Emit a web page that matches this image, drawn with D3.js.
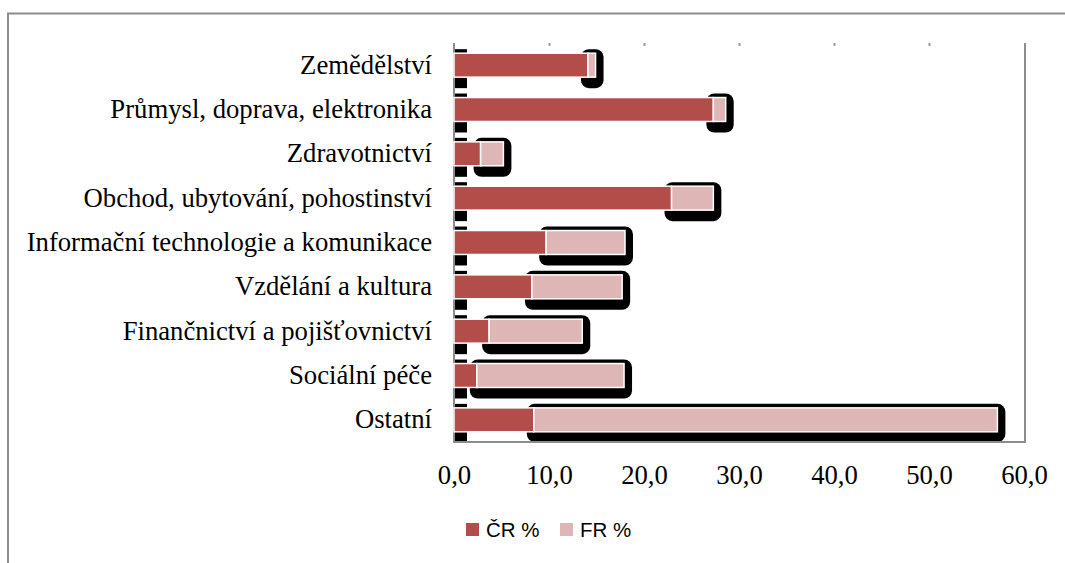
<!DOCTYPE html>
<html>
<head>
<meta charset="utf-8">
<script src="https://cdn.jsdelivr.net/npm/d3@7"></script>
<style>
  html, body { margin: 0; padding: 0; background: #fff; }
  svg { display: block; }
</style>
</head>
<body>
<div id="chart"></div>
<script>
// odvětví (shora dolů)
const categories = [
  "Zemědělství",
  "Průmysl, doprava, elektronika",
  "Zdravotnictví",
  "Obchod, ubytování, pohostinství",
  "Informační technologie a komunikace",
  "Vzdělání a kultura",
  "Finančnictví a pojišťovnictví",
  "Sociální péče",
  "Ostatní"
];
const crValues = [14.1, 27.3, 2.8, 22.9, 9.7, 8.2, 3.7, 2.4, 8.4];
const frValues = [0.8, 1.3, 2.4, 4.4, 8.3, 9.5, 9.8, 15.5, 48.8];
const xTicks = [0, 10, 20, 30, 40, 50, 60];
const seriesNames = ["ČR %", "FR %"];
const colors = ["#b34d4a", "#dfb6b6"];

const width = 1065, height = 563;
const plot = { left: 454, right: 1024, top: 43, bottom: 442 };

const svg = d3.select("#chart").append("svg")
  .attr("width", width)
  .attr("height", height);

// vnější rámeček grafu
svg.append("path")
  .attr("d", `M8,${height} V13.5 H${width}`)
  .attr("fill", "none")
  .attr("stroke", "#8c8c8c")
  .attr("stroke-width", 2);

const x = d3.scaleLinear().domain([0, 60]).range([plot.left, plot.right]);
const y = d3.scaleBand().domain(categories)
  .range([plot.top, plot.bottom])
  .paddingInner(0.46)
  .paddingOuter(0.23);

const rows = categories.map((c, i) => ({
  cat: c, cr: crValues[i], fr: frValues[i], total: crValues[i] + frValues[i]
}));

// stíny
const shadows = svg.append("g").attr("fill", "#000");
shadows.selectAll("rect.cr")
  .data(rows)
  .join("rect")
  .attr("class", "cr")
  .attr("x", x(0) + 1)
  .attr("y", d => y(d.cat) - 4)
  .attr("width", 12)
  .attr("height", y.bandwidth() + 15);

shadows.selectAll("rect.fr")
  .data(rows)
  .join("rect")
  .attr("class", "fr")
  .attr("x", d => x(d.cr) - 7)
  .attr("y", d => y(d.cat) - 4)
  .attr("width", d => x(d.total) - x(d.cr) + 15)
  .attr("height", d => Math.min(y.bandwidth() + 15, plot.bottom - y(d.cat) + 4))
  .attr("rx", 8);

// osy / rámeček plochy
const frame = svg.append("g").attr("stroke", "#8c8c8c").attr("stroke-width", 2).attr("fill", "none");
frame.append("path")
  .attr("d", `M${plot.left},${plot.top} V${plot.bottom} H${plot.right + 1} V${plot.top}`);

// značky nahoře
svg.append("g")
  .attr("transform", `translate(0,${plot.top})`)
  .call(d3.axisBottom(x).tickValues(xTicks.slice(1, -1)).tickSize(3).tickFormat(""))
  .call(g => g.select(".domain").remove())
  .call(g => g.selectAll("line").attr("stroke", "#999").attr("stroke-width", 2));

// pruhy
const bars = svg.append("g").attr("stroke", "#fff").attr("stroke-width", 1.5);
bars.selectAll("rect.cr")
  .data(rows)
  .join("rect")
  .attr("class", "cr")
  .attr("x", x(0))
  .attr("y", d => y(d.cat))
  .attr("width", d => x(d.cr) - x(0))
  .attr("height", y.bandwidth())
  .attr("fill", colors[0]);

bars.selectAll("rect.fr")
  .data(rows)
  .join("rect")
  .attr("class", "fr")
  .attr("x", d => x(d.cr))
  .attr("y", d => y(d.cat))
  .attr("width", d => x(d.total) - x(d.cr))
  .attr("height", y.bandwidth())
  .attr("fill", colors[1]);

// popisky kategorií
svg.append("g")
  .attr("transform", `translate(${plot.left},0)`)
  .call(d3.axisLeft(y).tickSize(0).tickPadding(22))
  .call(g => g.select(".domain").remove())
  .selectAll("text")
  .attr("font-family", "'Liberation Serif', 'Times New Roman', serif")
  .attr("font-size", 26.7)
  .attr("fill", "#000");

// osa x
const fmt = v => d3.format(".1f")(v).replace(".", ",");
svg.append("g")
  .attr("transform", `translate(0,${plot.bottom})`)
  .call(d3.axisBottom(x).tickValues(xTicks).tickSize(0).tickPadding(23).tickFormat(fmt))
  .call(g => g.select(".domain").remove())
  .selectAll("text")
  .attr("font-family", "'Liberation Serif', 'Times New Roman', serif")
  .attr("font-size", 26.7)
  .attr("fill", "#000");

// legenda
const legend = svg.append("g").attr("transform", "translate(466,523)");
const lx = [0, 94];
seriesNames.forEach((name, i) => {
  const g = legend.append("g").attr("transform", `translate(${lx[i]},0)`);
  g.append("rect").attr("width", 13).attr("height", 13).attr("fill", colors[i]);
  g.append("text")
    .attr("x", 20)
    .attr("y", 7)
    .attr("dy", "0.36em")
    .attr("font-family", "'Liberation Sans', Arial, sans-serif")
    .attr("font-size", 20.5)
    .attr("fill", "#000")
    .text(name);
});
</script>
</body>
</html>
